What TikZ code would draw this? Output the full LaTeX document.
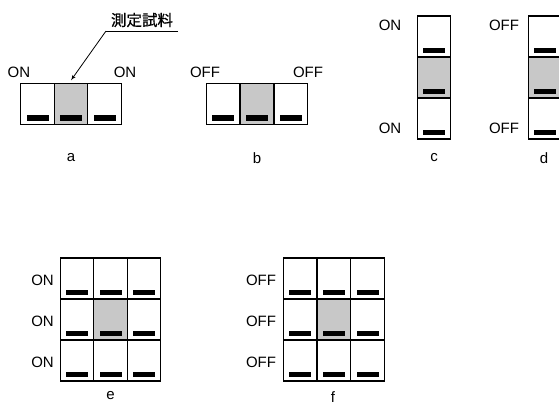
\documentclass[tikz,border=0pt]{standalone}
\usepackage{fontspec}
\setmainfont{Liberation Sans}
\newfontfamily\jpfont{Noto Sans CJK JP}[FakeBold=0.8]
\usepackage{tikz}
\usetikzlibrary{arrows}
\definecolor{samplegray}{RGB}{200,200,200}

\begin{document}
\begin{tikzpicture}[x=1pt,y=-1pt]

		\tikzset{
		    swcell/.style={draw, line width=1.4pt, inner sep=0pt, minimum width=33.5pt, minimum height=41pt,
		        path picture={\fill[black] ([xshift=-11pt,yshift=4pt]path picture bounding box.south) rectangle ++(22pt,5.5pt);}},
		    lbl/.style={font=\fontsize{15}{17}\selectfont, inner sep=0pt}
		}

		\useasboundingbox (0,0) rectangle (559,408);

		% row a, b

		\foreach \x/\n/\cc in {37.5/1/white, 71/2/samplegray, 104.5/3/white}
			\node[swcell, fill=\cc] (a\n) at (\x,104) {};
		\foreach \x/\n/\cc in {223/1/white, 257/2/samplegray, 291/3/white}
			\node[swcell, fill=\cc] (b\n) at (\x,104) {};

		\node[lbl] (aon1) at (19,72.5) {ON};
		\node[lbl] (aon2) at (125,72.5) {ON};
		\node[lbl] (boff1) at (205,72.5) {OFF};
		\node[lbl] (boff2) at (308,72.5) {OFF};
		\node[lbl] (alab) at (71,158) {a};
		\node[lbl] (blab) at (257,158) {b};

		% sample label

		\node[font=\jpfont\fontsize{15.5}{17}\selectfont, inner sep=0pt] (sample) at (142,20) {測定試料};
		\coordinate (bend) at (106,31);
		\coordinate (lineend) at (178,31);
		\draw[line width=0.8pt] (lineend) -- (bend);
		\draw[line width=0.8pt, -latex'] (bend) -- ([yshift=2.5pt]a2.north);

		% columns c, d

		\foreach \y/\n/\cc in {36.5/1/white, 77.5/2/samplegray, 118.5/3/white} {
			\node[swcell, fill=\cc] (c\n) at (434,\y) {};
			\node[swcell, fill=\cc] (d\n) at (545,\y) {};
		}

		\node[lbl] (con1) at (390,25) {ON};
		\node[lbl] (con2) at (390,128) {ON};
		\node[lbl] (doff1) at (504,25) {OFF};
		\node[lbl] (doff2) at (504,128) {OFF};
		\node[lbl] (clab) at (434,158) {c};
		\node[lbl] (dlab) at (544,158) {d};

		% grids e, f

		\foreach \r/\y in {1/278.5, 2/319.5, 3/360.5} {
			\foreach \c/\xe/\xf in {1/77.3/300, 2/110.5/334, 3/144/367.5} {
				\ifnum\r\c=22 \def\cc{samplegray}\else\def\cc{white}\fi
				\node[swcell, fill=\cc] (e\r\c) at (\xe,\y) {};
				\node[swcell, fill=\cc] (f\r\c) at (\xf,\y) {};
			}
			\node[lbl] (eon\r) at (42.5,\y+2) {ON};
			\node[lbl] (foff\r) at (261,\y+2) {OFF};
		}

		\node[lbl] (elab) at (110.5,396) {e};
		\node[lbl] (flab) at (333,397) {f};

\end{tikzpicture}
\end{document}
